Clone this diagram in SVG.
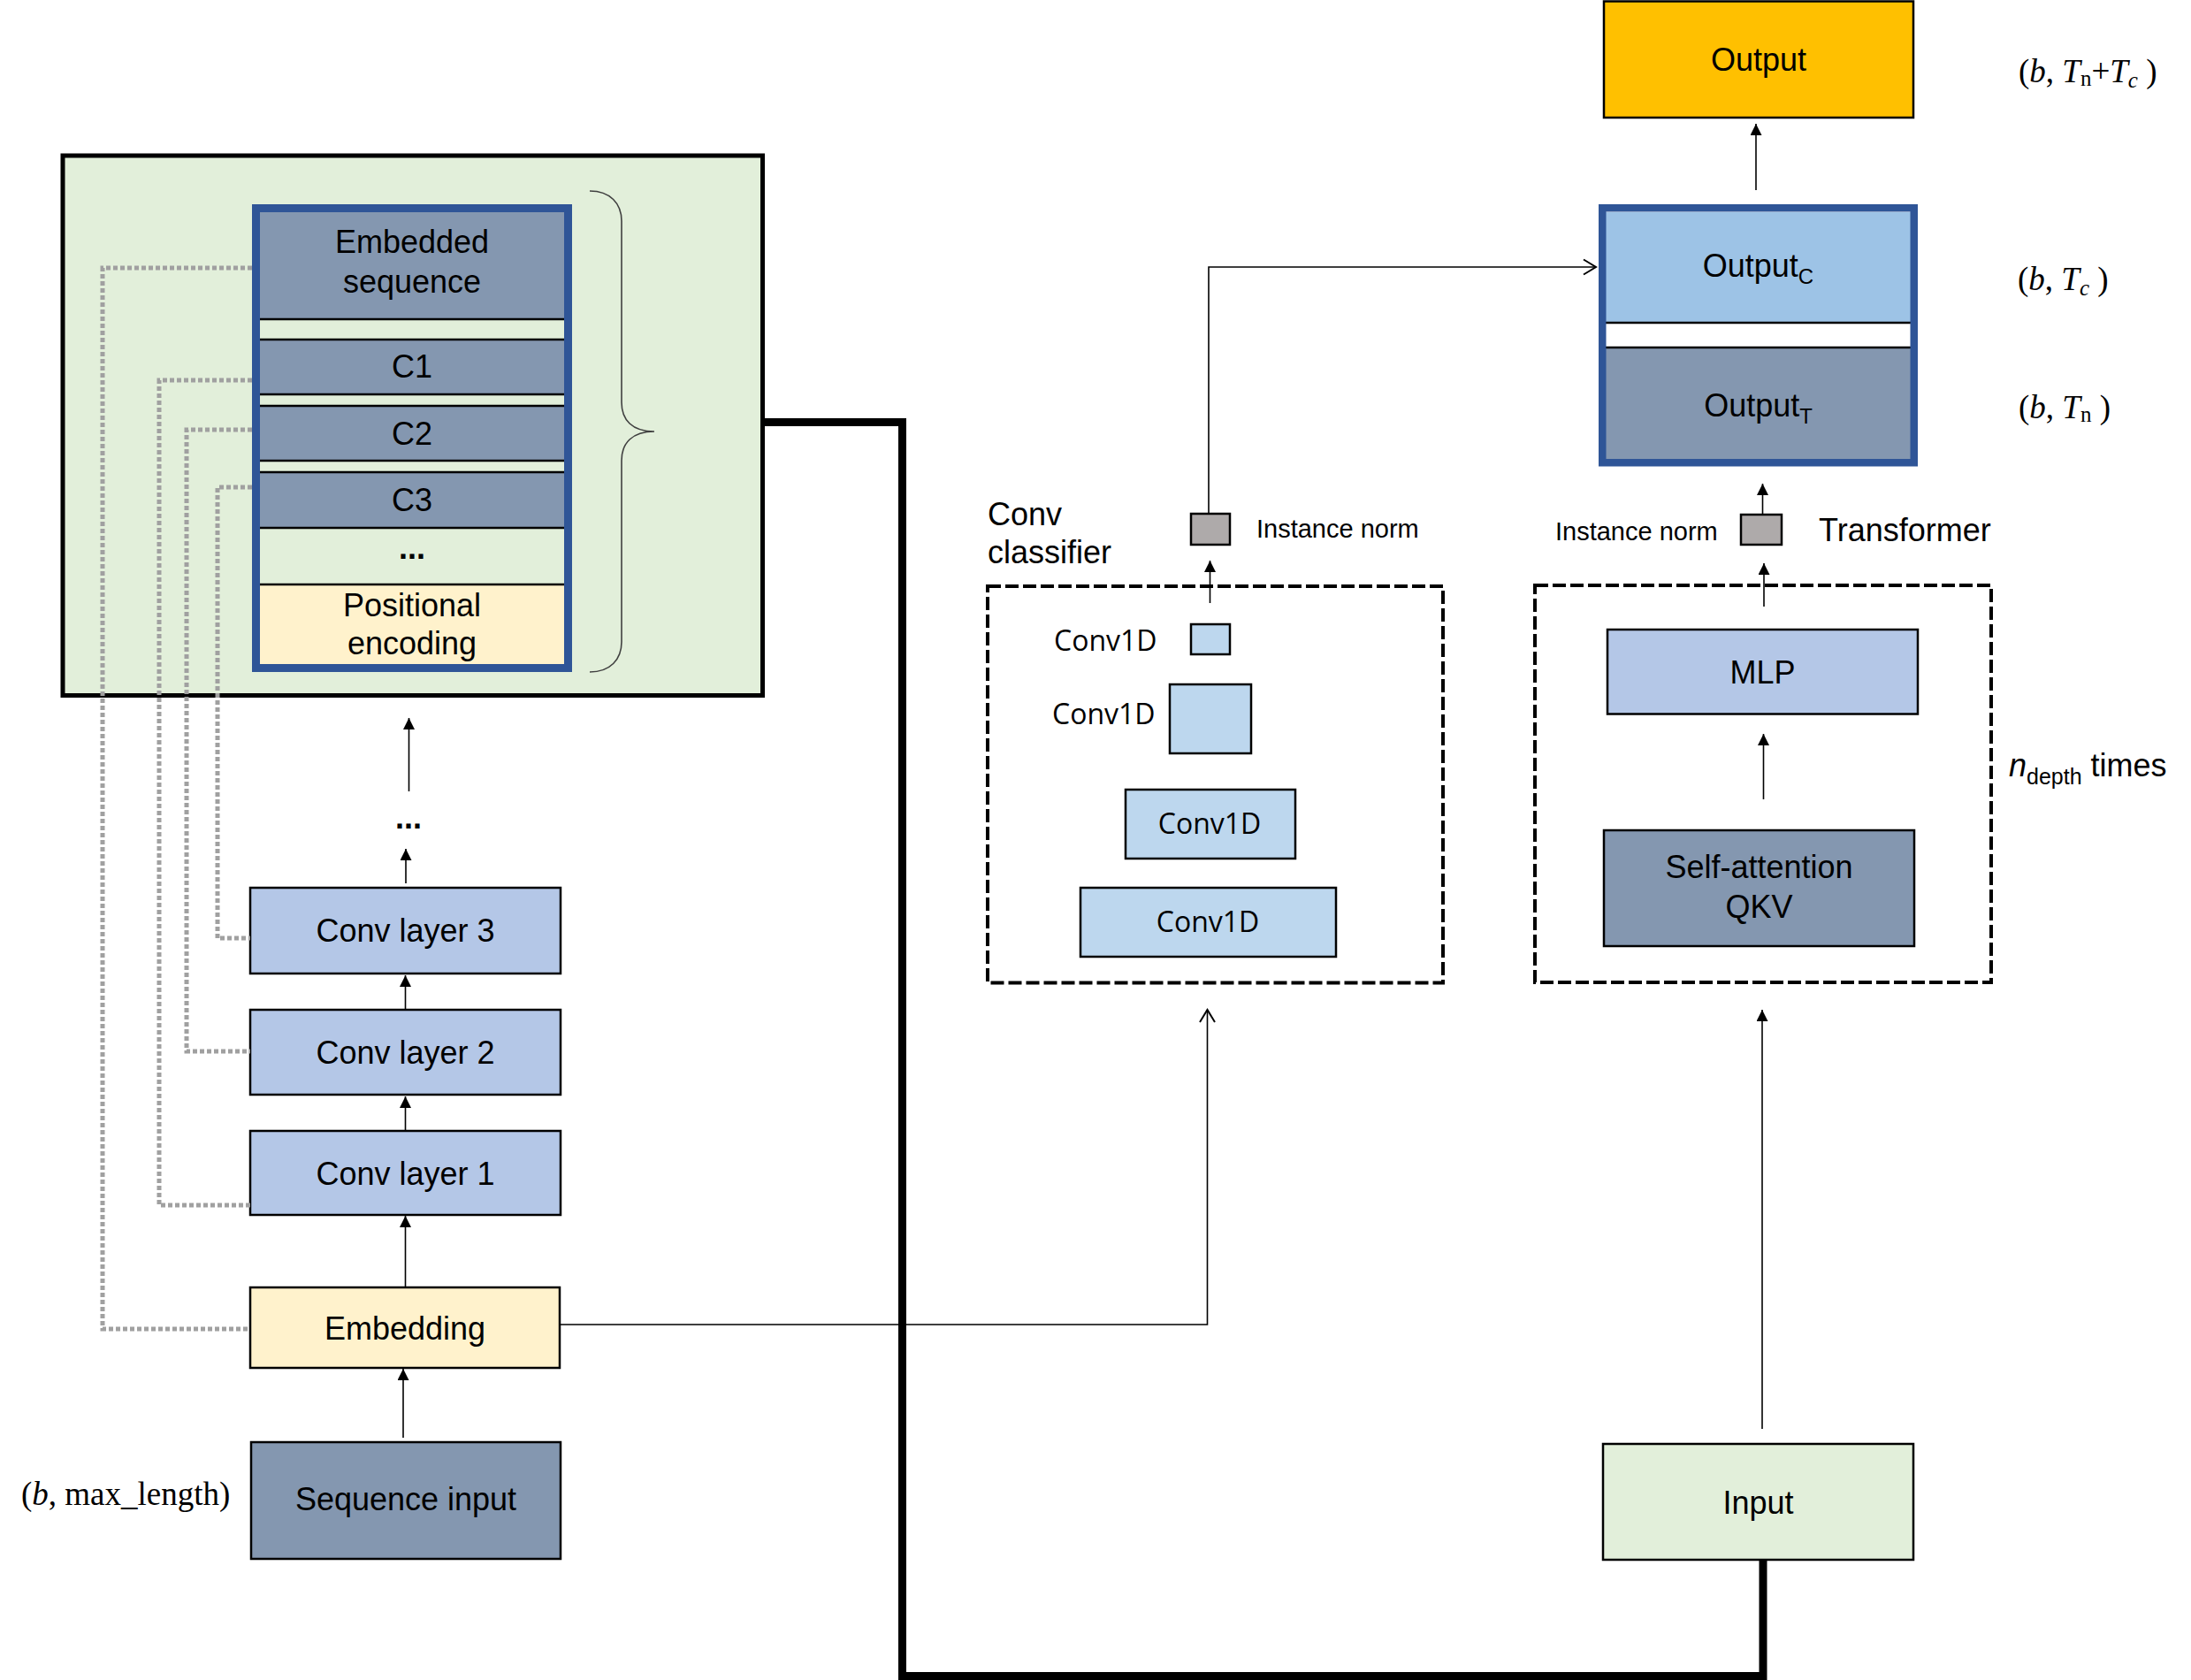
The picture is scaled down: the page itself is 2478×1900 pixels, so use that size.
<svg xmlns="http://www.w3.org/2000/svg" width="2478" height="1900" viewBox="0 0 2478 1900">
<defs>
<style>
.t{font-family:"Liberation Sans",Arial,sans-serif;font-size:36px;fill:#000}
.c{text-anchor:middle}
.tm{font-family:"Liberation Serif","Times New Roman",serif;font-size:37px;fill:#000}
.cv{font-family:"Open Sans","Noto Sans",sans-serif;font-size:32px;fill:#000}
.sm{font-size:29px}
.box{stroke:#000;stroke-width:2.5}
.ln{fill:none;stroke:#000;stroke-width:1.6}
.dot{fill:none;stroke:#A0A0A0;stroke-width:5;stroke-dasharray:5 3}
.dash{fill:none;stroke:#000;stroke-width:4;stroke-dasharray:15 5}
.sep{stroke:#000;stroke-width:2.5}
</style>
<marker id="arr" markerUnits="userSpaceOnUse" markerWidth="13" markerHeight="13" refX="13" refY="6.5" orient="auto">
<path d="M0,0 L13,6.5 L0,13 z" fill="#000"/>
</marker>
<marker id="open" markerUnits="userSpaceOnUse" markerWidth="18" markerHeight="20" refX="15" refY="10" orient="auto">
<path d="M1,1.5 L15,10 L1,18.5" fill="none" stroke="#000" stroke-width="2"/>
</marker>
</defs>
<rect width="2478" height="1900" fill="#fff"/>

<!-- Embedding container -->
<g id="embed-container">
<rect x="71" y="176" width="791.5" height="610.5" fill="#E2EFDA" stroke="#000" stroke-width="5"/>
</g>

<g id="embedded-stack">
<rect x="294" y="240" width="344" height="121" fill="#8497B0"/>
<rect x="294" y="361" width="344" height="23" fill="#E2EFDA"/>
<rect x="294" y="384" width="344" height="62" fill="#8497B0"/>
<rect x="294" y="446" width="344" height="13" fill="#E2EFDA"/>
<rect x="294" y="459" width="344" height="62" fill="#8497B0"/>
<rect x="294" y="521" width="344" height="13" fill="#E2EFDA"/>
<rect x="294" y="534" width="344" height="63" fill="#8497B0"/>
<rect x="294" y="597" width="344" height="64" fill="#E2EFDA"/>
<rect x="294" y="661" width="344" height="90" fill="#FFF2CC"/>
<line class="sep" x1="294" y1="361" x2="638" y2="361"/>
<line class="sep" x1="294" y1="384" x2="638" y2="384"/>
<line class="sep" x1="294" y1="446" x2="638" y2="446"/>
<line class="sep" x1="294" y1="459" x2="638" y2="459"/>
<line class="sep" x1="294" y1="521" x2="638" y2="521"/>
<line class="sep" x1="294" y1="534" x2="638" y2="534"/>
<line class="sep" x1="294" y1="597" x2="638" y2="597"/>
<line class="sep" x1="294" y1="661" x2="638" y2="661"/>
<rect x="289.5" y="235.5" width="353" height="520" fill="none" stroke="#2F5597" stroke-width="9"/>
<text class="t c" x="466" y="286">Embedded</text>
<text class="t c" x="466" y="331">sequence</text>
<text class="t c" x="466" y="427">C1</text>
<text class="t c" x="466" y="503">C2</text>
<text class="t c" x="466" y="578">C3</text>
<text class="t c" x="466" y="632" font-size="28" font-weight="bold">...</text>
<text class="t c" x="466" y="697">Positional</text>
<text class="t c" x="466" y="740">encoding</text>
</g>

<g id="brace">
<path d="M667,216 C690,216 703,230 703,250 L703,455 C703,475 715,488 740,488 C715,488 703,501 703,521 L703,726 C703,746 690,760 667,760" fill="none" stroke="#404040" stroke-width="1.6"/>
</g>

<!-- Left column nodes -->
<g id="conv-layer-3">
<rect class="box" x="283" y="1004" width="351" height="97" fill="#B4C7E7"/>
<text class="t c" x="458.5" y="1065">Conv layer 3</text>
</g>
<g id="conv-layer-2">
<rect class="box" x="283" y="1142" width="351" height="96" fill="#B4C7E7"/>
<text class="t c" x="458.5" y="1203">Conv layer 2</text>
</g>
<g id="conv-layer-1">
<rect class="box" x="283" y="1279" width="351" height="95" fill="#B4C7E7"/>
<text class="t c" x="458.5" y="1340">Conv layer 1</text>
</g>
<g id="embedding">
<rect class="box" x="283" y="1456" width="350" height="91" fill="#FFF2CC"/>
<text class="t c" x="458" y="1515">Embedding</text>
</g>
<g id="sequence-input">
<rect class="box" x="284" y="1631" width="350" height="132" fill="#8497B0"/>
<text class="t c" x="459" y="1708">Sequence input</text>
<text class="tm" x="24" y="1702">(<tspan font-style="italic">b</tspan>, max_length)</text>
</g>
<g id="ellipsis-left">
<text class="t c" x="462" y="937" font-size="28" font-weight="bold">...</text>
</g>

<!-- Conv classifier -->
<g id="conv-classifier">
<rect class="dash" x="1117" y="663" width="515" height="448.5"/>
<text class="t" x="1117" y="594">Conv</text>
<text class="t" x="1117" y="637">classifier</text>
</g>
<g id="conv1d-1">
<rect class="box" x="1347" y="706" width="44" height="34" fill="#BDD7EE"/>
<text class="cv" x="1192" y="736">Conv1D</text>
</g>
<g id="conv1d-2">
<rect class="box" x="1323" y="774" width="92" height="78" fill="#BDD7EE"/>
<text class="cv" x="1190" y="819">Conv1D</text>
</g>
<g id="conv1d-3">
<rect class="box" x="1273" y="893" width="192" height="78" fill="#BDD7EE"/>
<text class="cv c" x="1368" y="943">Conv1D</text>
</g>
<g id="conv1d-4">
<rect class="box" x="1222" y="1004" width="289" height="78" fill="#BDD7EE"/>
<text class="cv c" x="1366" y="1054">Conv1D</text>
</g>
<g id="instnorm-conv">
<rect class="box" x="1347" y="581" width="44" height="35" fill="#AEAAAA"/>
<text class="t sm" x="1421" y="608">Instance norm</text>
</g>

<!-- Transformer -->
<g id="transformer">
<rect class="dash" x="1736" y="662" width="516" height="449"/>
<text class="t" x="2057" y="612">Transformer</text>
<text class="t" x="2272" y="878"><tspan font-style="italic">n</tspan><tspan font-size="25" dy="9">depth</tspan><tspan dy="-9"> times</tspan></text>
</g>
<g id="mlp">
<rect class="box" x="1818" y="712" width="351" height="95.5" fill="#B4C7E7"/>
<text class="t c" x="1993.5" y="773">MLP</text>
</g>
<g id="self-attention">
<rect class="box" x="1814" y="939" width="351" height="131" fill="#8497B0"/>
<text class="t c" x="1989.5" y="993">Self-attention</text>
<text class="t c" x="1989.5" y="1038">QKV</text>
</g>
<g id="instnorm-transformer">
<rect class="box" x="1969" y="582" width="46" height="34" fill="#AEAAAA"/>
<text class="t sm" x="1759" y="611">Instance norm</text>
</g>
<g id="input">
<rect class="box" x="1813" y="1633" width="351" height="131" fill="#E2EFDA"/>
<text class="t c" x="1988.5" y="1712">Input</text>
</g>

<!-- Outputs -->
<g id="output-stack">
<rect x="1816" y="240" width="345" height="125" fill="#9DC3E6"/>
<rect x="1816" y="365" width="345" height="28" fill="#fff"/>
<rect x="1816" y="393" width="345" height="126" fill="#8497B0"/>
<line class="sep" x1="1816" y1="365" x2="2161" y2="365"/>
<line class="sep" x1="1816" y1="393" x2="2161" y2="393"/>
<rect x="1812.25" y="235.25" width="352.5" height="288" fill="none" stroke="#2F5597" stroke-width="8.5"/>
<text class="t c" x="1988.5" y="313">Output<tspan font-size="24" dy="8">C</tspan></text>
<text class="t c" x="1988.5" y="471">Output<tspan font-size="24" dy="8">T</tspan></text>
<text class="tm" x="2282" y="328">(<tspan font-style="italic">b</tspan>, <tspan font-style="italic">T</tspan><tspan font-style="italic" font-size="25" dy="6">c</tspan><tspan dy="-6"> )</tspan></text>
<text class="tm" x="2283" y="473">(<tspan font-style="italic">b</tspan>, <tspan font-style="italic">T</tspan><tspan font-size="25" dy="4">n</tspan><tspan dy="-4"> )</tspan></text>
</g>
<g id="output">
<rect class="box" x="1814" y="1.5" width="350" height="131.5" fill="#FFC000"/>
<text class="t c" x="1989" y="80">Output</text>
<text class="tm" x="2283" y="93">(<tspan font-style="italic">b</tspan>, <tspan font-style="italic">T</tspan><tspan font-size="25" dy="4">n</tspan><tspan dy="-4">+</tspan><tspan font-style="italic">T</tspan><tspan font-style="italic" font-size="25" dy="6">c</tspan><tspan dy="-6"> )</tspan></text>
</g>

<!-- Connectors -->
<g id="connectors">
<path class="dot" d="M285,303 H116 V1503 H283"/>
<path class="dot" d="M285,430 H180 V1363 H283"/>
<path class="dot" d="M285,486 H211 V1189 H283"/>
<path class="dot" d="M285,551 H246 V1061 H283"/>
<line class="ln" x1="456" y1="1626" x2="456" y2="1548" marker-end="url(#arr)"/>
<line class="ln" x1="458.5" y1="1456" x2="458.5" y2="1375" marker-end="url(#arr)"/>
<line class="ln" x1="458.5" y1="1279" x2="458.5" y2="1240" marker-end="url(#arr)"/>
<line class="ln" x1="458.5" y1="1142" x2="458.5" y2="1103" marker-end="url(#arr)"/>
<line class="ln" x1="459" y1="999" x2="459" y2="960" marker-end="url(#arr)"/>
<line class="ln" x1="462.5" y1="895" x2="462.5" y2="812" marker-end="url(#arr)"/>
<path d="M865,477.5 H1020.5 V1895.5 H1994 V1764" fill="none" stroke="#000" stroke-width="9" stroke-linejoin="miter"/>
<path class="ln" d="M633,1498 H1365.5 V1142" marker-end="url(#open)"/>
<line class="ln" x1="1368.5" y1="682" x2="1368.5" y2="634" marker-end="url(#arr)"/>
<path class="ln" d="M1367,581 V302 H1805" marker-end="url(#open)"/>
<line class="ln" x1="1993" y1="1616" x2="1993" y2="1142" marker-end="url(#arr)"/>
<line class="ln" x1="1994.5" y1="904" x2="1994.5" y2="830" marker-end="url(#arr)"/>
<line class="ln" x1="1995" y1="686" x2="1995" y2="637" marker-end="url(#arr)"/>
<line class="ln" x1="1993.5" y1="581" x2="1993.5" y2="547" marker-end="url(#arr)"/>
<line class="ln" x1="1986" y1="215" x2="1986" y2="140" marker-end="url(#arr)"/>
</g>
</svg>
